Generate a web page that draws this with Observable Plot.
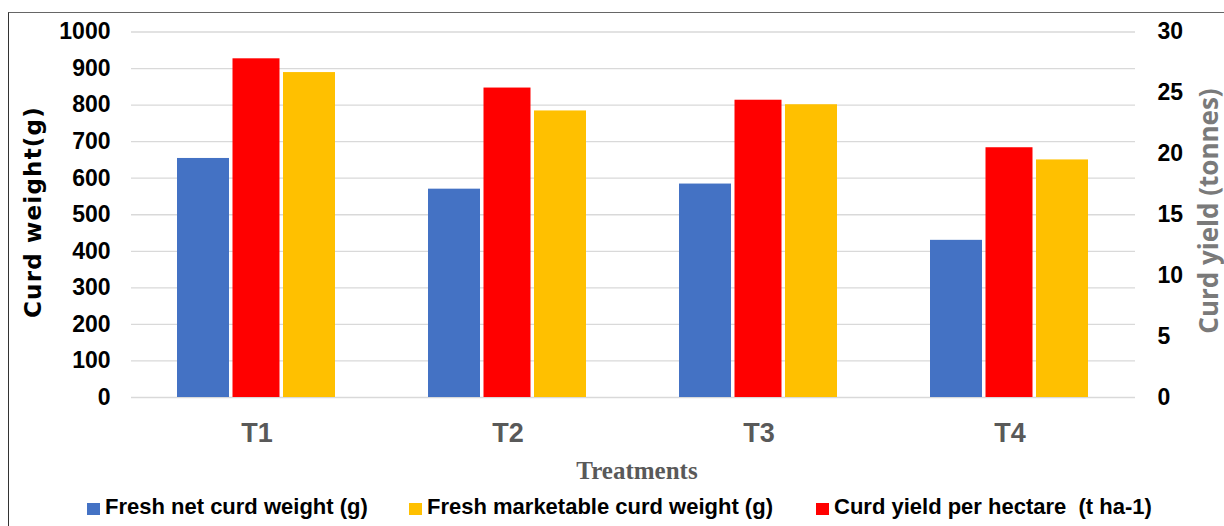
<!DOCTYPE html>
<html>
<head>
<meta charset="utf-8">
<script src="https://cdn.jsdelivr.net/npm/d3@7"></script>
<script src="https://cdn.jsdelivr.net/npm/@observablehq/plot@0.6"></script>
<style>
  html, body { margin: 0; padding: 0; background: #fff; }
  body { width: 1224px; height: 526px; overflow: hidden; position: relative; font-family: "Liberation Sans", Arial, sans-serif; }
  #frame { position: absolute; left: 8px; top: 12px; width: 1230px; height: 530px; border-top: 1.5px solid #666; border-left: 1.5px solid #333; box-sizing: border-box; }
  #chart { position: absolute; left: 0; top: 0; }
  #chart svg [aria-label="y-axis tick label"] text { font: bold 23px "Liberation Sans", Arial, sans-serif; fill: #000; }
  #chart svg [aria-label="fx-axis tick label"] text { font: bold 27px "Liberation Sans", Arial, sans-serif; fill: #595959; }
  .ytitle-left { position: absolute; left: 32.5px; top: 212px; transform: translate(-50%, -50%) rotate(-90deg); white-space: nowrap; font: bold 23px "DejaVu Sans", sans-serif; letter-spacing: 1.2px; color: #000; }
  .ytitle-right { position: absolute; left: 1208px; top: 210.5px; transform: translate(-50%, -50%) rotate(-90deg); white-space: nowrap; font-family: "Open Sans", sans-serif; font-weight: 700; font-size: 26px; line-height: 28px; color: #7a7a7a; }
  .xtitle { position: absolute; left: 637px; top: 457.6px; transform: translateX(-50%); white-space: nowrap; font: bold 25px/25px "Liberation Serif", "Times New Roman", serif; color: #595959; }
  .legend-item { position: absolute; top: 496px; display: flex; align-items: center; white-space: pre; font: bold 22px/22px "Liberation Sans", Arial, sans-serif; color: #000; }
  .legend-item .sw { display: inline-block; width: 13px; height: 12px; margin-right: 5px; margin-top: 3px; }
</style>
</head>
<body>
<div id="frame"></div>
<div id="chart"></div>
<script>
// ---- data ----
const treatments = ["T1", "T2", "T3", "T4"];
const netCurdWeight = [654, 570, 584, 430];          // g (left axis)
const marketableCurdWeight = [889, 784, 801, 650];   // g (left axis)
const curdYieldPerHa = [27.8, 25.4, 24.4, 20.5];     // t/ha (right axis)
const leftTicks = [0, 100, 200, 300, 400, 500, 600, 700, 800, 900, 1000];
const rightTicks = [0, 5, 10, 15, 20, 25, 30];
const seriesKeys = ["net", "yield", "market"];
const seriesLabels = ["Fresh net curd weight (g)", "Curd yield per hectare  (t ha-1)", "Fresh marketable curd weight (g)"];
const seriesColors = ["#4472C4", "#FF0000", "#FFC000"];
const legendOrder = ["net", "market", "yield"];
const leftTitle = "Curd weight(g)";
const rightTitle = "Curd yield (tonnes)";
const xTitle = "Treatments";

// right axis (0–30 t) maps onto left axis (0–1000 g)
const leftMax = 1000, rightMax = 30;
const toLeft = v => v * leftMax / rightMax;

const rows = [];
treatments.forEach((t, i) => {
  rows.push({treatment: t, series: "net", value: netCurdWeight[i], y: netCurdWeight[i]});
  rows.push({treatment: t, series: "yield", value: curdYieldPerHa[i], y: toLeft(curdYieldPerHa[i])});
  rows.push({treatment: t, series: "market", value: marketableCurdWeight[i], y: marketableCurdWeight[i]});
});

const chart = Plot.plot({
  width: 1224,
  height: 480,
  marginLeft: 130,
  marginRight: 88,
  marginTop: 31.5,
  marginBottom: 83,
  style: {background: "transparent"},
  fx: {domain: treatments, padding: 0, label: null},
  x: {domain: seriesKeys, paddingInner: 0.01, paddingOuter: 0.84, axis: null},
  y: {domain: [0, leftMax], axis: null},
  color: {domain: seriesKeys, range: seriesColors},
  marks: [
    Plot.gridY(leftTicks, {stroke: "#d9d9d9", strokeOpacity: 1, strokeWidth: 1.3}),
    Plot.barY(rows.filter(d => d.series !== "yield"), {fx: "treatment", x: "series", y: "y", fill: "series"}),
    Plot.barY(rows.filter(d => d.series === "yield"), {fx: "treatment", x: "series", y: "y", fill: "series", insetLeft: 2.5, insetRight: 2.5}),
    Plot.axisY(leftTicks, {anchor: "left", tickSize: 0, tickPadding: 21, label: null, fontSize: 23, fontWeight: "bold",
      tickFormat: d => String(d)}),
    Plot.axisY(rightTicks.map(toLeft), {anchor: "right", tickSize: 0, tickPadding: 22, label: null, fontSize: 23, fontWeight: "bold",
      tickFormat: d => String(Math.round(d * rightMax / leftMax))}),
    Plot.axisFx({anchor: "bottom", tickSize: 0, tickPadding: 25, label: null, fontSize: 27, fontWeight: "bold"})
  ]
});
document.getElementById("chart").appendChild(chart);

// titles
function addDiv(cls, text) {
  const d = document.createElement("div");
  d.className = cls;
  d.textContent = text;
  document.body.appendChild(d);
  return d;
}
addDiv("ytitle-left", leftTitle);
addDiv("ytitle-right", rightTitle);
addDiv("xtitle", xTitle);

// legend
const legendLeft = {net: 87, market: 409, yield: 816};
legendOrder.forEach(k => {
  const i = seriesKeys.indexOf(k);
  const item = document.createElement("div");
  item.className = "legend-item";
  item.style.left = legendLeft[k] + "px";
  const sw = document.createElement("span");
  sw.className = "sw";
  sw.style.background = seriesColors[i];
  const tx = document.createElement("span");
  tx.textContent = seriesLabels[i];
  item.appendChild(sw);
  item.appendChild(tx);
  document.body.appendChild(item);
});
</script>
</body>
</html>
